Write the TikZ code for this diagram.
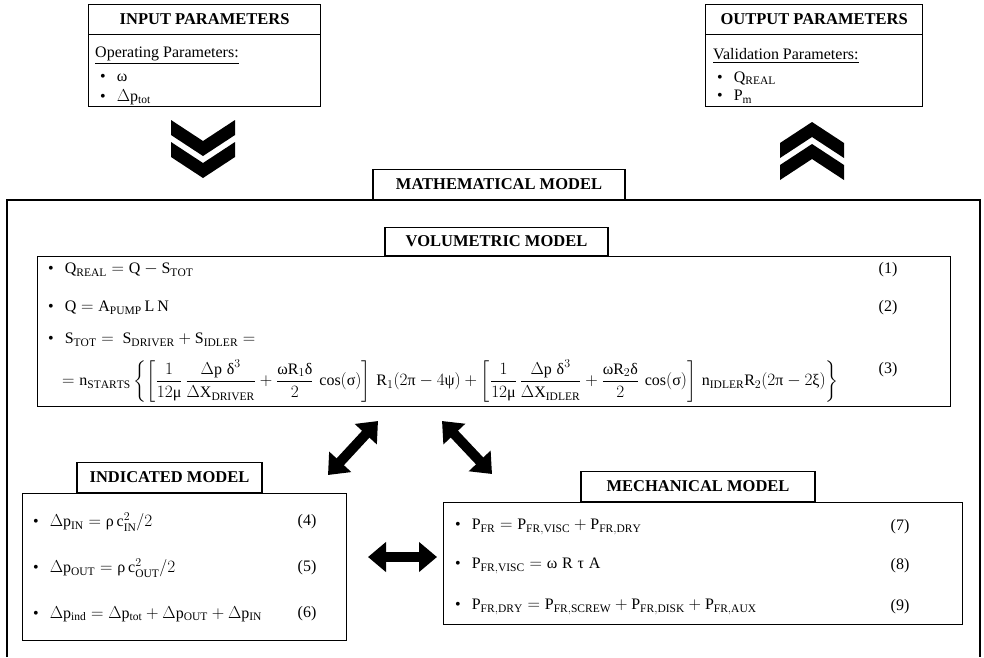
\documentclass[tikz,border=0pt]{standalone}
\usepackage{fontspec}
\setmainfont{Liberation Serif}
\usepackage{amsmath}
\usepackage{tikz}
\usetikzlibrary{arrows.meta,positioning}

\DeclareMathSizes{16}{16}{11.5}{9}
\newcommand{\mr}[1]{\mathrm{#1}}
\newcommand{\gk}[1]{\text{#1}}
\newcommand{\bul}{\textbullet\hspace{11pt}}

\begin{document}
\begin{tikzpicture}[x=1pt,y=-1pt,
            tab/.style={draw,fill=white,line width=1.2pt,inner sep=0pt,minimum height=30pt,font=\bfseries\fontsize{16.5}{18}\selectfont},
            parbox/.style={draw,line width=1.2pt,inner sep=0pt},
            modelbox/.style={draw,line width=1.4pt,inner sep=0pt},
            frame/.style={line width=2.6pt},
            eqn/.style={anchor=west,inner sep=0pt,font=\fontsize{16}{19}\selectfont},
            num/.style={inner sep=0pt,font=\fontsize{16}{19}\selectfont},
            chev/.style={fill=black},
            bigarrow/.style={line width=10pt,{Triangle[length=18pt,width=29pt]}-{Triangle[length=18pt,width=29pt]}}
          ]
          \useasboundingbox (0,0) rectangle (984,657);

          %parameter boxes
          \node[parbox,anchor=north west,minimum width=232pt,minimum height=102pt] (in) at (88,4) {};
          \node[parbox,anchor=north,minimum width=232pt,minimum height=30pt,font=\bfseries\fontsize{16.5}{18}\selectfont] (intitle) at (in.north) {INPUT PARAMETERS};
          \node[eqn] (inhead) at (95,56) {\underline{Operating Parameters:}};
          \node[eqn] (in1) at (100,78) {\bul ω};
          \node[eqn] (in2) at (100,97) {\bul $\Delta\mr{p}_{\mr{tot}}$};

          \node[parbox,anchor=north west,minimum width=217pt,minimum height=102pt] (out) at (705,4) {};
          \node[parbox,anchor=north,minimum width=217pt,minimum height=30pt,font=\bfseries\fontsize{16.5}{18}\selectfont] (outtitle) at (out.north) {OUTPUT PARAMETERS};
          \node[eqn] (outhead) at (713,56) {\underline{Validation Parameters:}};
          \node[eqn] (out1) at (717,78) {\bul $\mr{Q}_{\mr{REAL}}$};
          \node[eqn] (out2) at (717,97) {\bul $\mr{P}_{\mr{m}}$};

          %chevrons
          \coordinate (dn) at (203,120);
          \coordinate (up) at (812,180);
          \foreach \s in {0,22}{
            \fill[chev] (dn) ++(-32,\s) -- ++(32,21) -- ++(32,-21) -- ++(0,15) -- ++(-32,21) -- ++(-32,-21) -- cycle;
            \fill[chev] (up) ++(-32,-\s) -- ++(32,-21) -- ++(32,21) -- ++(0,-15) -- ++(-32,-21) -- ++(-32,21) -- cycle;
          }

          %mathematical model
          \coordinate (fbl) at (7,657);
          \coordinate (ftl) at (7,200);
          \coordinate (ftr) at (980,200);
          \coordinate (fbr) at (980,657);
          \draw[frame] (fbl) -- (ftl) -- (ftr) -- (fbr);
          \node[tab,anchor=south,minimum width=252pt] (mathtab) at (499,200) {MATHEMATICAL MODEL};

          %volumetric model
          \node[modelbox,anchor=north west,minimum width=913pt,minimum height=150pt] (vol) at (37,256) {};
          \node[tab,anchor=south,minimum width=223pt,minimum height=28pt] (voltab) at (496.5,256) {VOLUMETRIC MODEL};
          \node[eqn] (e1) at (48,270) {\bul $\mr{Q}_{\mr{REAL}} = \mr{Q} - \mr{S}_{\mr{TOT}}$};
          \node[eqn] (e2) at (48,308) {\bul $\mr{Q} = \mr{A}_{\mr{PUMP}}\,\mr{L}\,\mr{N}$};
          \node[eqn] (e3) at (48,340) {\bul $\mr{S}_{\mr{TOT}} =\ \mr{S}_{\mr{DRIVER}} + \mr{S}_{\mr{IDLER}} =$};
          \node[eqn] (e3b) at (62,381) {$= \mr{n}_{\mr{STARTS}}\left\{\left[\dfrac{1}{12\gk{μ}}\,\dfrac{\Delta\mr{p}\;\gk{δ}^{3}}{\Delta\mr{X}_{\mr{DRIVER}}}+\dfrac{\gk{ω}\mr{R}_{1}\gk{δ}}{2}\,\cos(\gk{σ})\right]\,\mr{R}_{1}(2\gk{π}-4\gk{ψ})+\left[\dfrac{1}{12\gk{μ}}\,\dfrac{\Delta\mr{p}\;\gk{δ}^{3}}{\Delta\mr{X}_{\mr{IDLER}}}+\dfrac{\gk{ω}\mr{R}_{2}\gk{δ}}{2}\,\cos(\gk{σ})\right]\,\mr{n}_{\mr{IDLER}}\mr{R}_{2}(2\gk{π}-2\gk{ξ})\right\}$};
          \node[num] (n1) at (888,270) {(1)};
          \node[num] (n2) at (888,308) {(2)};
          \node[num] (n3) at (888,370) {(3)};

          %indicated model
          \node[modelbox,anchor=north west,minimum width=324pt,minimum height=147pt] (ind) at (22,493) {};
          \node[tab,anchor=south,minimum width=185pt] (indtab) at (169.5,493) {INDICATED MODEL};
          \node[eqn] (e4) at (33,522) {\bul $\Delta\mr{p}_{\mr{IN}} = \gk{ρ}\,\mr{c}_{\mr{IN}}^{2}/2$};
          \node[eqn] (e5) at (33,568) {\bul $\Delta\mr{p}_{\mr{OUT}} = \gk{ρ}\,\mr{c}_{\mr{OUT}}^{2}/2$};
          \node[eqn] (e6) at (33,614) {\bul $\Delta\mr{p}_{\mr{ind}} = \Delta\mr{p}_{\mr{tot}} + \Delta\mr{p}_{\mr{OUT}} + \Delta\mr{p}_{\mr{IN}}$};
          \node[num] (n4) at (307,522) {(4)};
          \node[num] (n5) at (307,568) {(5)};
          \node[num] (n6) at (307,614) {(6)};

          %mechanical model
          \node[modelbox,anchor=north west,minimum width=519pt,minimum height=122pt] (mech) at (443,502) {};
          \node[tab,anchor=south,minimum width=234pt] (mechtab) at (698,502) {MECHANICAL MODEL};
          \node[eqn] (e7) at (455,527) {\bul $\mr{P}_{\mr{FR}} = \mr{P}_{\mr{FR{,}VISC}} + \mr{P}_{\mr{FR{,}DRY}}$};
          \node[eqn] (e8) at (455,566) {\bul $\mr{P}_{\mr{FR{,}VISC}} = \gk{ω}\;\mr{R}\;\gk{τ}\;\mr{A}$};
          \node[eqn] (e9) at (455,607) {\bul $\mr{P}_{\mr{FR{,}DRY}} = \mr{P}_{\mr{FR{,}SCREW}} + \mr{P}_{\mr{FR{,}DISK}} + \mr{P}_{\mr{FR{,}AUX}}$};
          \node[num] (n7) at (900,527) {(7)};
          \node[num] (n8) at (900,566) {(8)};
          \node[num] (n9) at (900,607) {(9)};

          %links
          \coordinate (a1s) at (328,475);
          \coordinate (a1e) at (378,421);
          \coordinate (a2s) at (442,421);
          \coordinate (a2e) at (492,474);
          \coordinate (a3s) at (368,557);
          \coordinate (a3e) at (437,557);
          \path
          (a1s) edge[bigarrow] (a1e)
          (a2s) edge[bigarrow] (a2e)
          (a3s) edge[bigarrow] (a3e)
          ;

      \end{tikzpicture}
\end{document}
